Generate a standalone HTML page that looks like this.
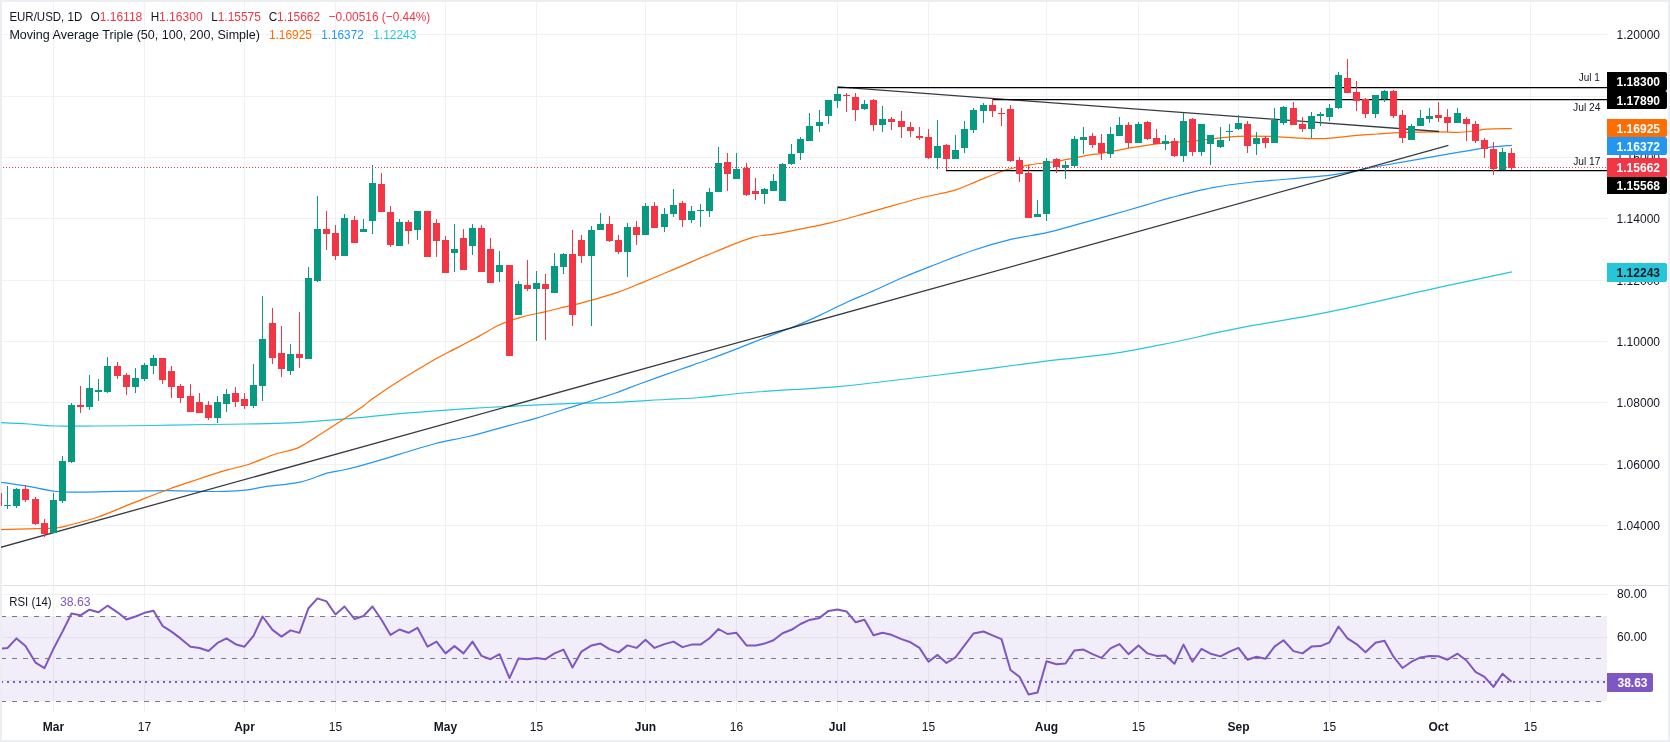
<!DOCTYPE html><html><head><meta charset="utf-8"><style>
html,body{margin:0;padding:0;width:1670px;height:742px;overflow:hidden;background:#EDEEF2;}
svg{display:block;will-change:transform;}
</style></head><body>
<svg width="1670" height="742" viewBox="0 0 1670 742" style="font-family:'Liberation Sans', sans-serif">
<rect x="2" y="2" width="1666" height="738" fill="#FFFFFF"/>
<defs><clipPath id="mainclip"><rect x="1" y="2" width="1606" height="583"/></clipPath>
<clipPath id="rsiclip"><rect x="2" y="586" width="1605" height="126"/></clipPath></defs>
<path d="M2 34.5H1607M2 96.5H1607M2 157.5H1607M2 218.5H1607M2 280.5H1607M2 341.5H1607M2 402.5H1607M2 464.5H1607M2 525.5H1607M2 594.5H1607M2 637.5H1607M2 680.5H1607M53.5 2V712M144.5 2V712M244.5 2V712M335.5 2V712M445.5 2V712M536.5 2V712M645.5 2V712M736.5 2V712M837.5 2V712M928.5 2V712M1046.5 2V712M1138.5 2V712M1238.5 2V712M1329.5 2V712M1438.5 2V712M1530.5 2V712" stroke="#F0F1F2" stroke-width="1" fill="none"/>
<rect x="2" y="585" width="1666" height="1" fill="#E0E3EB"/>
<g clip-path="url(#mainclip)">
<path d="M0.0 422.6 C4.7 422.8 19.2 423.4 28.3 424.0 C37.4 424.6 43.7 425.7 54.7 426.0 C65.7 426.3 78.3 426.1 94.3 426.0 C110.3 425.9 132.0 425.8 150.9 425.5 C169.8 425.2 191.8 424.8 207.5 424.5 C223.2 424.2 231.6 424.3 245.3 424.0 C259.1 423.7 270.4 424.0 290.0 422.9 C309.6 421.8 344.5 418.9 362.8 417.3 C381.1 415.8 387.9 414.7 400.0 413.6 C412.1 412.5 423.5 411.7 435.5 410.8 C447.5 409.9 459.8 409.0 471.9 408.3 C484.0 407.6 496.3 407.0 508.3 406.4 C520.3 405.8 531.8 405.2 543.7 404.7 C555.7 404.2 568.0 403.6 580.0 403.2 C592.0 402.8 601.5 402.9 615.6 402.3 C629.8 401.7 650.8 400.3 664.9 399.5 C679.0 398.7 685.9 398.7 700.0 397.5 C714.1 396.3 727.3 394.3 749.8 392.5 C772.2 390.7 813.0 388.6 834.7 386.8 C856.4 385.1 859.0 384.4 880.0 382.0 C901.0 379.6 932.5 375.9 960.5 372.4 C988.5 368.9 1022.5 363.9 1047.8 360.8 C1073.1 357.7 1092.1 356.7 1112.5 353.7 C1132.9 350.7 1149.2 347.2 1170.0 343.0 C1190.8 338.8 1210.8 333.6 1237.5 328.4 C1264.2 323.2 1296.9 318.4 1330.5 311.6 C1364.1 304.8 1408.9 294.0 1439.1 287.4 C1469.3 280.8 1499.8 274.5 1511.9 271.9" stroke="#26C6DA" stroke-width="1.2" fill="none" stroke-linejoin="round"/>
<path d="M0.0 482.1 C4.7 482.8 18.9 484.8 28.3 486.4 C37.7 488.0 47.2 490.6 56.6 491.5 C66.0 492.4 72.3 492.2 84.9 492.1 C97.5 492.0 117.9 491.4 132.1 491.1 C146.2 490.9 155.7 490.5 169.8 490.6 C184.0 490.7 204.4 491.6 217.0 491.5 C229.6 491.4 237.4 491.0 245.3 490.2 C253.2 489.4 255.1 488.1 264.2 486.8 C273.3 485.5 289.5 484.4 300.0 482.1 C310.5 479.8 319.8 475.1 327.0 473.1 C334.2 471.1 337.4 471.3 343.4 470.0 C349.4 468.7 353.4 467.8 362.8 465.1 C372.2 462.5 387.9 457.7 400.0 454.1 C412.1 450.5 424.1 446.4 435.5 443.5 C446.9 440.6 455.9 439.5 468.3 436.5 C480.7 433.5 498.2 428.4 509.6 425.3 C521.0 422.2 526.3 421.1 536.5 418.1 C546.7 415.1 562.2 410.0 570.6 407.4 C579.0 404.8 579.3 404.7 586.8 402.3 C594.3 399.9 606.6 396.1 615.6 393.0 C624.6 389.9 630.0 387.4 640.7 383.5 C651.4 379.6 668.6 373.5 680.0 369.5 C691.4 365.5 699.8 362.7 709.1 359.3 C718.5 355.9 726.6 352.8 736.1 349.1 C745.6 345.4 756.8 340.9 766.3 337.2 C775.8 333.5 784.2 330.7 793.2 327.0 C802.2 323.3 810.9 319.4 820.2 315.1 C829.5 310.8 840.6 305.1 848.9 301.3 C857.2 297.5 861.1 296.2 870.0 292.3 C878.9 288.4 891.5 282.3 902.3 277.7 C913.1 273.1 922.8 269.4 934.7 264.8 C946.6 260.2 961.1 254.3 973.5 250.2 C985.9 246.0 996.6 242.9 1009.0 239.9 C1021.4 236.9 1035.9 235.1 1047.8 232.4 C1059.7 229.7 1069.4 226.6 1080.2 223.7 C1091.0 220.8 1101.6 217.8 1112.5 214.7 C1123.4 211.6 1135.8 207.9 1145.4 205.1 C1155.0 202.3 1158.8 200.8 1170.0 197.9 C1181.2 195.0 1198.9 190.2 1212.7 187.6 C1226.5 184.9 1233.4 184.1 1253.0 182.0 C1272.6 179.9 1309.8 177.8 1330.5 175.2 C1351.2 172.6 1358.9 169.8 1377.0 166.5 C1395.1 163.2 1421.0 158.8 1439.1 155.7 C1457.2 152.6 1473.5 149.6 1485.6 147.9 C1497.7 146.2 1507.5 145.8 1511.9 145.4" stroke="#2196F3" stroke-width="1.2" fill="none" stroke-linejoin="round"/>
<path d="M0.0 529.6 C4.7 529.5 18.9 529.2 28.3 528.9 C37.7 528.6 49.4 528.6 56.6 527.9 C63.8 527.2 64.8 526.3 71.7 524.5 C78.6 522.7 88.0 520.5 98.1 517.0 C108.2 513.5 120.1 508.1 132.1 503.4 C144.1 498.7 158.8 492.7 169.8 488.7 C180.8 484.7 188.7 482.3 198.1 479.2 C207.5 476.1 217.9 472.7 226.4 470.2 C234.9 467.7 241.2 466.8 249.1 464.2 C257.0 461.6 265.4 457.5 273.6 454.7 C281.8 451.9 290.9 450.9 298.5 447.6 C306.1 444.3 312.0 439.4 319.1 435.0 C326.2 430.6 333.6 425.8 340.9 421.0 C348.2 416.2 357.5 410.1 362.8 406.4 C368.1 402.7 366.4 402.9 372.5 398.7 C378.6 394.5 388.6 387.6 399.1 381.0 C409.6 374.4 426.2 364.5 435.5 359.1 C444.8 353.8 447.6 352.7 454.9 348.9 C462.2 345.1 471.7 340.1 479.2 336.1 C486.7 332.1 492.9 327.8 499.8 324.7 C506.7 321.6 512.9 319.5 520.4 317.4 C527.9 315.2 536.6 313.7 544.7 311.8 C552.8 309.9 563.0 307.2 568.9 305.8 C574.8 304.4 572.0 305.6 580.0 303.4 C588.0 301.2 606.4 296.1 616.8 292.6 C627.2 289.1 631.9 286.9 642.3 282.6 C652.7 278.4 666.8 272.3 679.1 267.1 C691.4 261.9 703.6 256.4 715.9 251.5 C728.2 246.6 742.3 240.4 752.7 237.4 C763.1 234.4 765.4 235.8 778.1 233.4 C790.8 231.0 813.8 226.8 829.1 223.2 C844.4 219.6 855.1 216.2 870.0 212.1 C884.9 208.0 904.5 202.1 918.5 198.5 C932.5 194.9 944.4 193.2 954.1 190.4 C963.8 187.6 968.1 184.8 976.7 181.4 C985.3 178.0 996.6 172.8 1005.8 170.0 C1015.0 167.2 1023.1 165.9 1031.7 164.5 C1040.3 163.1 1047.8 162.9 1057.5 161.3 C1067.2 159.7 1082.8 156.1 1089.9 154.8 C1097.0 153.5 1093.5 154.8 1100.3 153.6 C1107.1 152.4 1120.6 149.5 1130.7 147.8 C1140.8 146.1 1151.1 144.4 1161.0 143.3 C1170.9 142.2 1181.8 142.2 1190.0 141.5 C1198.2 140.8 1202.4 139.9 1210.3 139.0 C1218.2 138.1 1227.4 136.7 1237.5 136.3 C1247.6 135.9 1260.6 136.1 1271.0 136.4 C1281.4 136.7 1291.1 137.8 1300.0 138.2 C1308.9 138.6 1316.4 138.9 1324.3 138.6 C1332.2 138.3 1338.5 137.1 1347.3 136.3 C1356.1 135.5 1367.5 134.7 1377.0 134.0 C1386.5 133.3 1394.2 132.7 1404.5 132.3 C1414.8 131.9 1430.4 131.8 1439.1 131.8 C1447.8 131.8 1450.8 132.4 1456.8 132.3 C1462.8 132.2 1470.2 131.5 1475.2 131.0 C1480.2 130.5 1480.5 129.5 1486.6 129.1 C1492.7 128.7 1507.6 128.7 1511.8 128.6" stroke="#FF6D00" stroke-width="1.2" fill="none" stroke-linejoin="round"/>
<path d="M0 547.5 L1448.4 145.4" stroke="#131722" stroke-width="1.3" fill="none" opacity="0.85"/>
<path d="M837.3 86.9 L1439 131.5" stroke="#131722" stroke-width="1.3" fill="none" opacity="0.85"/>
<path d="M837 87.5H1607M992 99.5H1607M946 170.5H1607" stroke="#000000" stroke-width="1.25" fill="none"/>
<path d="M7 486h1V509h-1ZM4 505h7V506h-7ZM16 488h1V508h-1ZM13 489h7V506h-7ZM53 493h1V533h-1ZM50 500h7V533h-7ZM62 456h1V503h-1ZM59 461h7V501h-7ZM71 403h1V463h-1ZM68 405h7V462h-7ZM89 375h1V410h-1ZM86 388h7V407h-7ZM98 379h1V401h-1ZM95 390h7V392h-7ZM107 357h1V393h-1ZM104 366h7V392h-7ZM135 368h1V393h-1ZM132 378h7V387h-7ZM144 363h1V381h-1ZM141 365h7V379h-7ZM153 355h1V374h-1ZM150 358h7V366h-7ZM217 396h1V423h-1ZM214 402h7V418h-7ZM226 389h1V412h-1ZM223 394h7V404h-7ZM253 364h1V408h-1ZM250 385h7V406h-7ZM262 296h1V401h-1ZM259 339h7V386h-7ZM290 344h1V375h-1ZM287 354h7V371h-7ZM308 267h1V359h-1ZM305 278h7V359h-7ZM317 196h1V282h-1ZM314 229h7V281h-7ZM344 214h1V256h-1ZM341 218h7V256h-7ZM363 219h1V232h-1ZM360 229h7V232h-7ZM372 165h1V234h-1ZM369 183h7V221h-7ZM399 219h1V246h-1ZM396 222h7V246h-7ZM417 211h1V240h-1ZM414 211h7V230h-7ZM454 224h1V272h-1ZM451 249h7V253h-7ZM472 224h1V255h-1ZM469 228h7V246h-7ZM499 251h1V282h-1ZM496 265h7V272h-7ZM518 281h1V315h-1ZM515 284h7V315h-7ZM536 271h1V341h-1ZM533 283h7V289h-7ZM554 253h1V293h-1ZM551 266h7V293h-7ZM563 253h1V274h-1ZM560 254h7V267h-7ZM591 226h1V326h-1ZM588 230h7V256h-7ZM600 213h1V230h-1ZM597 224h7V230h-7ZM627 223h1V277h-1ZM624 227h7V252h-7ZM645 203h1V235h-1ZM642 206h7V235h-7ZM664 208h1V232h-1ZM661 214h7V227h-7ZM673 189h1V217h-1ZM670 205h7V214h-7ZM691 206h1V223h-1ZM688 211h7V220h-7ZM700 204h1V227h-1ZM697 210h7V211h-7ZM709 188h1V217h-1ZM706 192h7V211h-7ZM718 147h1V192h-1ZM715 163h7V192h-7ZM736 153h1V179h-1ZM733 169h7V179h-7ZM764 188h1V204h-1ZM761 189h7V194h-7ZM773 174h1V191h-1ZM770 181h7V191h-7ZM782 163h1V201h-1ZM779 164h7V201h-7ZM791 144h1V165h-1ZM788 154h7V164h-7ZM800 137h1V160h-1ZM797 139h7V153h-7ZM809 113h1V141h-1ZM806 126h7V141h-7ZM819 110h1V132h-1ZM816 122h7V126h-7ZM828 100h1V124h-1ZM825 100h7V116h-7ZM837 87h1V108h-1ZM834 94h7V101h-7ZM864 100h1V110h-1ZM861 104h7V109h-7ZM882 106h1V132h-1ZM879 119h7V125h-7ZM937 120h1V169h-1ZM934 146h7V158h-7ZM955 135h1V159h-1ZM952 150h7V159h-7ZM964 121h1V153h-1ZM961 129h7V148h-7ZM973 108h1V133h-1ZM970 110h7V130h-7ZM983 103h1V123h-1ZM980 105h7V111h-7ZM1037 200h1V217h-1ZM1034 214h7V217h-7ZM1046 158h1V221h-1ZM1043 161h7V214h-7ZM1065 161h1V179h-1ZM1062 165h7V168h-7ZM1074 136h1V168h-1ZM1071 139h7V166h-7ZM1083 127h1V154h-1ZM1080 137h7V140h-7ZM1110 127h1V158h-1ZM1107 134h7V154h-7ZM1119 117h1V136h-1ZM1116 125h7V136h-7ZM1138 122h1V143h-1ZM1135 124h7V143h-7ZM1165 135h1V150h-1ZM1162 141h7V144h-7ZM1183 113h1V162h-1ZM1180 121h7V156h-7ZM1201 124h1V156h-1ZM1198 124h7V152h-7ZM1210 135h1V165h-1ZM1207 135h7V144h-7ZM1220 127h1V148h-1ZM1217 140h7V147h-7ZM1229 124h1V141h-1ZM1226 131h7V132h-7ZM1238 115h1V130h-1ZM1235 123h7V129h-7ZM1256 132h1V155h-1ZM1253 138h7V144h-7ZM1274 108h1V143h-1ZM1271 120h7V143h-7ZM1283 106h1V125h-1ZM1280 107h7V123h-7ZM1311 112h1V138h-1ZM1308 116h7V129h-7ZM1320 112h1V126h-1ZM1317 114h7V116h-7ZM1329 104h1V121h-1ZM1326 108h7V117h-7ZM1338 72h1V109h-1ZM1335 75h7V108h-7ZM1375 95h1V118h-1ZM1372 95h7V114h-7ZM1384 90h1V102h-1ZM1381 91h7V99h-7ZM1411 124h1V140h-1ZM1408 126h7V140h-7ZM1420 110h1V126h-1ZM1417 118h7V126h-7ZM1429 108h1V123h-1ZM1426 116h7V119h-7ZM1457 108h1V123h-1ZM1454 113h7V123h-7ZM1502 148h1V170h-1ZM1499 152h7V170h-7Z" fill="#089981" shape-rendering="crispEdges"/>
<path d="M-2 490h1V508h-1ZM-5 493h7V506h-7ZM25 485h1V502h-1ZM22 489h7V500h-7ZM35 497h1V525h-1ZM32 499h7V524h-7ZM44 519h1V537h-1ZM41 523h7V534h-7ZM80 386h1V413h-1ZM77 405h7V407h-7ZM117 362h1V379h-1ZM114 366h7V376h-7ZM126 373h1V395h-1ZM123 375h7V387h-7ZM162 358h1V384h-1ZM159 358h7V380h-7ZM171 366h1V398h-1ZM168 371h7V387h-7ZM180 384h1V403h-1ZM177 386h7V398h-7ZM190 384h1V412h-1ZM187 396h7V412h-7ZM199 393h1V413h-1ZM196 402h7V413h-7ZM208 401h1V420h-1ZM205 405h7V418h-7ZM235 387h1V407h-1ZM232 393h7V402h-7ZM244 393h1V409h-1ZM241 399h7V406h-7ZM272 308h1V364h-1ZM269 323h7V358h-7ZM281 326h1V377h-1ZM278 353h7V369h-7ZM299 312h1V368h-1ZM296 354h7V358h-7ZM326 211h1V250h-1ZM323 229h7V234h-7ZM335 225h1V260h-1ZM332 233h7V256h-7ZM354 216h1V243h-1ZM351 220h7V243h-7ZM381 173h1V212h-1ZM378 184h7V212h-7ZM390 206h1V247h-1ZM387 212h7V245h-7ZM408 220h1V244h-1ZM405 222h7V231h-7ZM427 211h1V257h-1ZM424 211h7V257h-7ZM436 219h1V257h-1ZM433 223h7V241h-7ZM445 236h1V273h-1ZM442 240h7V273h-7ZM463 229h1V270h-1ZM460 238h7V270h-7ZM481 225h1V272h-1ZM478 228h7V272h-7ZM490 238h1V283h-1ZM487 249h7V283h-7ZM509 265h1V356h-1ZM506 265h7V356h-7ZM527 260h1V291h-1ZM524 285h7V289h-7ZM545 274h1V340h-1ZM542 284h7V289h-7ZM572 230h1V326h-1ZM569 254h7V315h-7ZM581 235h1V263h-1ZM578 240h7V256h-7ZM609 216h1V242h-1ZM606 224h7V241h-7ZM618 235h1V254h-1ZM615 240h7V252h-7ZM636 221h1V245h-1ZM633 227h7V235h-7ZM654 202h1V228h-1ZM651 206h7V228h-7ZM682 201h1V227h-1ZM679 203h7V220h-7ZM727 153h1V191h-1ZM724 162h7V174h-7ZM746 163h1V196h-1ZM743 168h7V195h-7ZM755 178h1V200h-1ZM752 191h7V194h-7ZM846 93h1V112h-1ZM843 95h7V96h-7ZM855 93h1V121h-1ZM852 97h7V110h-7ZM873 99h1V131h-1ZM870 100h7V125h-7ZM891 117h1V130h-1ZM888 119h7V122h-7ZM901 111h1V138h-1ZM898 121h7V127h-7ZM910 122h1V137h-1ZM907 127h7V131h-7ZM919 127h1V140h-1ZM916 136h7V138h-7ZM928 129h1V159h-1ZM925 137h7V158h-7ZM946 144h1V170h-1ZM943 145h7V159h-7ZM992 99h1V117h-1ZM989 105h7V111h-7ZM1001 108h1V126h-1ZM998 113h7V114h-7ZM1010 105h1V162h-1ZM1007 109h7V161h-7ZM1019 157h1V182h-1ZM1016 160h7V174h-7ZM1028 165h1V218h-1ZM1025 173h7V218h-7ZM1056 158h1V173h-1ZM1053 159h7V167h-7ZM1092 133h1V148h-1ZM1089 136h7V145h-7ZM1101 134h1V160h-1ZM1098 143h7V153h-7ZM1128 122h1V148h-1ZM1125 125h7V143h-7ZM1147 121h1V140h-1ZM1144 122h7V139h-7ZM1156 129h1V144h-1ZM1153 138h7V144h-7ZM1174 138h1V157h-1ZM1171 141h7V156h-7ZM1192 118h1V156h-1ZM1189 119h7V152h-7ZM1247 121h1V153h-1ZM1244 124h7V146h-7ZM1265 136h1V148h-1ZM1262 138h7V143h-7ZM1293 102h1V125h-1ZM1290 108h7V125h-7ZM1302 117h1V132h-1ZM1299 124h7V129h-7ZM1347 59h1V93h-1ZM1344 78h7V93h-7ZM1356 81h1V111h-1ZM1353 92h7V101h-7ZM1365 98h1V118h-1ZM1362 99h7V114h-7ZM1393 90h1V118h-1ZM1390 91h7V116h-7ZM1402 110h1V143h-1ZM1399 115h7V138h-7ZM1438 102h1V122h-1ZM1435 115h7V118h-7ZM1447 109h1V132h-1ZM1444 117h7V123h-7ZM1466 117h1V141h-1ZM1463 119h7V124h-7ZM1475 121h1V143h-1ZM1472 124h7V141h-7ZM1484 138h1V158h-1ZM1481 140h7V149h-7ZM1493 142h1V175h-1ZM1490 149h7V169h-7ZM1511 148h1V170h-1ZM1508 153h7V168h-7Z" fill="#F23645" shape-rendering="crispEdges"/>
<path d="M2 167.5H1607" stroke="#F23645" stroke-width="1" stroke-dasharray="1 2" stroke-dashoffset="2" fill="none"/>
</g>
<g clip-path="url(#rsiclip)">
<rect x="2" y="616" width="1605" height="85" fill="rgba(126,87,194,0.1)"/>
<path d="M1 616.5H1607" stroke="#787B86" stroke-width="1" stroke-dasharray="5 6" fill="none"/>
<path d="M1 658.5H1607" stroke="#787B86" stroke-width="1" stroke-dasharray="5 6" fill="none"/>
<path d="M1 701.5H1607" stroke="#787B86" stroke-width="1" stroke-dasharray="5 6" fill="none"/>
<path d="M1 682H1607" stroke="#7E57C2" stroke-width="2" stroke-dasharray="2 4" fill="none"/>
<path d="M-1.5 649.0 L7.5 648.0 L16.5 638.4 L25.5 646.0 L35.5 662.6 L44.5 668.1 L53.5 648.7 L62.5 631.6 L71.5 613.5 L80.5 615.3 L89.5 609.7 L98.5 612.3 L107.5 605.7 L117.5 612.3 L126.5 619.5 L135.5 616.5 L144.5 612.8 L153.5 610.7 L162.5 625.8 L171.5 631.6 L180.5 638.4 L190.5 646.7 L199.5 648.0 L208.5 651.0 L217.5 642.9 L226.5 638.4 L235.5 644.2 L244.5 646.7 L253.5 635.9 L262.5 616.5 L272.5 629.9 L281.5 636.6 L290.5 630.4 L299.5 632.9 L308.5 608.2 L317.5 598.4 L326.5 601.4 L335.5 614.5 L344.5 606.5 L354.5 619.0 L363.5 616.0 L372.5 606.5 L381.5 619.8 L390.5 634.9 L399.5 629.5 L408.5 632.8 L417.5 627.8 L427.5 646.6 L436.5 641.6 L445.5 653.4 L454.5 646.1 L463.5 653.4 L472.5 641.6 L481.5 655.9 L490.5 659.2 L499.5 654.2 L509.5 678.1 L518.5 658.4 L527.5 659.2 L536.5 657.9 L545.5 659.2 L554.5 653.4 L563.5 649.6 L572.5 667.5 L581.5 651.6 L591.5 645.4 L600.5 643.6 L609.5 649.1 L618.5 652.4 L627.5 645.4 L636.5 647.9 L645.5 639.8 L654.5 647.9 L664.5 644.1 L673.5 641.6 L682.5 647.1 L691.5 644.6 L700.5 644.6 L709.5 638.3 L718.5 629.0 L727.5 634.0 L736.5 632.8 L746.5 645.4 L755.5 645.4 L764.5 643.6 L773.5 640.3 L782.5 633.3 L791.5 629.8 L800.5 624.0 L809.5 619.9 L819.5 617.9 L828.5 610.9 L837.5 609.4 L846.5 611.4 L855.5 622.2 L864.5 619.7 L873.5 635.3 L882.5 632.8 L891.5 634.8 L901.5 639.1 L910.5 642.3 L919.5 647.9 L928.5 661.7 L937.5 654.9 L946.5 663.0 L955.5 657.4 L964.5 645.4 L973.5 633.5 L983.5 631.5 L992.5 635.3 L1001.5 639.1 L1010.5 670.0 L1019.5 676.8 L1028.5 694.4 L1037.5 692.6 L1046.5 661.2 L1056.5 664.2 L1065.5 663.5 L1074.5 650.4 L1083.5 649.6 L1092.5 654.2 L1101.5 657.9 L1110.5 648.4 L1119.5 644.1 L1128.5 654.2 L1138.5 645.4 L1147.5 653.4 L1156.5 655.9 L1165.5 655.4 L1174.5 663.7 L1183.5 644.6 L1192.5 661.7 L1201.5 648.8 L1210.5 653.7 L1220.5 656.4 L1229.5 651.6 L1238.5 647.9 L1247.5 659.7 L1256.5 656.7 L1265.5 658.7 L1274.5 646.6 L1283.5 640.3 L1293.5 651.1 L1302.5 653.4 L1311.5 646.6 L1320.5 646.1 L1329.5 642.3 L1338.5 626.5 L1347.5 638.3 L1356.5 644.1 L1365.5 652.2 L1375.5 642.8 L1384.5 640.8 L1393.5 656.7 L1402.5 668.0 L1411.5 661.7 L1420.5 657.4 L1429.5 655.9 L1438.5 656.2 L1447.5 659.7 L1457.5 653.7 L1466.5 660.5 L1475.5 671.8 L1484.5 676.8 L1493.5 686.9 L1502.5 673.8 L1511.5 681.8" stroke="#7E57C2" stroke-width="2" fill="none" stroke-linejoin="round"/>
</g>
<text x="1660.0" y="39.0" font-size="12" fill="#131722" text-anchor="end" font-weight="normal">1.20000</text>
<text x="1660.0" y="101.0" font-size="12" fill="#131722" text-anchor="end" font-weight="normal">1.18000</text>
<text x="1660.0" y="162.0" font-size="12" fill="#131722" text-anchor="end" font-weight="normal">1.16000</text>
<text x="1660.0" y="223.0" font-size="12" fill="#131722" text-anchor="end" font-weight="normal">1.14000</text>
<text x="1660.0" y="285.0" font-size="12" fill="#131722" text-anchor="end" font-weight="normal">1.12000</text>
<text x="1660.0" y="346.0" font-size="12" fill="#131722" text-anchor="end" font-weight="normal">1.10000</text>
<text x="1660.0" y="407.0" font-size="12" fill="#131722" text-anchor="end" font-weight="normal">1.08000</text>
<text x="1660.0" y="469.0" font-size="12" fill="#131722" text-anchor="end" font-weight="normal">1.06000</text>
<text x="1660.0" y="530.0" font-size="12" fill="#131722" text-anchor="end" font-weight="normal">1.04000</text>
<text x="1647.0" y="598.3" font-size="12" fill="#131722" text-anchor="end" font-weight="normal">80.00</text>
<text x="1647.0" y="641.3" font-size="12" fill="#131722" text-anchor="end" font-weight="normal">60.00</text>
<path d="M1607 72.0H1665.0a2 2 0 0 1 2 2V89.0a2 2 0 0 1 -2 2H1607Z" fill="#000000"/><text x="1660.0" y="86.0" font-size="12" fill="#FFFFFF" text-anchor="end" font-weight="bold">1.18300</text>
<path d="M1607 91.0H1665.0a2 2 0 0 1 2 2V107.0a2 2 0 0 1 -2 2H1607Z" fill="#000000"/><text x="1660.0" y="104.5" font-size="12" fill="#FFFFFF" text-anchor="end" font-weight="bold">1.17890</text>
<path d="M1607 119.0H1665.0a2 2 0 0 1 2 2V135.0a2 2 0 0 1 -2 2H1607Z" fill="#FF6D00"/><text x="1660.0" y="132.5" font-size="12" fill="#FFFFFF" text-anchor="end" font-weight="bold">1.16925</text>
<path d="M1607 137.0H1665.0a2 2 0 0 1 2 2V153.0a2 2 0 0 1 -2 2H1607Z" fill="#2196F3"/><text x="1660.0" y="150.5" font-size="12" fill="#FFFFFF" text-anchor="end" font-weight="bold">1.16372</text>
<path d="M1607 158.0H1665.0a2 2 0 0 1 2 2V175.0a2 2 0 0 1 -2 2H1607Z" fill="#F23645"/><text x="1660.0" y="172.0" font-size="12" fill="#FFFFFF" text-anchor="end" font-weight="bold">1.15662</text>
<path d="M1607 177.0H1665.0a2 2 0 0 1 2 2V192.0a2 2 0 0 1 -2 2H1607Z" fill="#000000"/><text x="1660.0" y="190.0" font-size="12" fill="#FFFFFF" text-anchor="end" font-weight="bold">1.15568</text>
<path d="M1607 263.0H1665.0a2 2 0 0 1 2 2V280.0a2 2 0 0 1 -2 2H1607Z" fill="#26C6DA"/><text x="1660.0" y="277.0" font-size="12" fill="#131722" text-anchor="end" font-weight="bold">1.12243</text>
<path d="M1607 673.0H1651.0a2 2 0 0 1 2 2V690.0a2 2 0 0 1 -2 2H1607Z" fill="#7E57C2"/><text x="1647.5" y="687.0" font-size="12" fill="#FFFFFF" text-anchor="end" font-weight="bold">38.63</text>
<text x="1578.8" y="81" font-size="10" fill="#131722" textLength="21" lengthAdjust="spacingAndGlyphs">Jul 1</text>
<text x="1573" y="110.7" font-size="10" fill="#131722" textLength="27.5" lengthAdjust="spacingAndGlyphs">Jul 24</text>
<text x="1573.2" y="165.3" font-size="10" fill="#131722" textLength="27.2" lengthAdjust="spacingAndGlyphs">Jul 17</text>
<text x="53.5" y="731.0" font-size="12" fill="#131722" text-anchor="middle" font-weight="bold">Mar</text>
<text x="144.5" y="731.0" font-size="12" fill="#131722" text-anchor="middle" font-weight="normal">17</text>
<text x="244.5" y="731.0" font-size="12" fill="#131722" text-anchor="middle" font-weight="bold">Apr</text>
<text x="335.5" y="731.0" font-size="12" fill="#131722" text-anchor="middle" font-weight="normal">15</text>
<text x="445.5" y="731.0" font-size="12" fill="#131722" text-anchor="middle" font-weight="bold">May</text>
<text x="536.5" y="731.0" font-size="12" fill="#131722" text-anchor="middle" font-weight="normal">15</text>
<text x="645.5" y="731.0" font-size="12" fill="#131722" text-anchor="middle" font-weight="bold">Jun</text>
<text x="736.5" y="731.0" font-size="12" fill="#131722" text-anchor="middle" font-weight="normal">16</text>
<text x="837.5" y="731.0" font-size="12" fill="#131722" text-anchor="middle" font-weight="bold">Jul</text>
<text x="928.5" y="731.0" font-size="12" fill="#131722" text-anchor="middle" font-weight="normal">15</text>
<text x="1046.5" y="731.0" font-size="12" fill="#131722" text-anchor="middle" font-weight="bold">Aug</text>
<text x="1138.5" y="731.0" font-size="12" fill="#131722" text-anchor="middle" font-weight="normal">15</text>
<text x="1238.5" y="731.0" font-size="12" fill="#131722" text-anchor="middle" font-weight="bold">Sep</text>
<text x="1329.5" y="731.0" font-size="12" fill="#131722" text-anchor="middle" font-weight="normal">15</text>
<text x="1438.5" y="731.0" font-size="12" fill="#131722" text-anchor="middle" font-weight="bold">Oct</text>
<text x="1530.5" y="731.0" font-size="12" fill="#131722" text-anchor="middle" font-weight="normal">15</text>
<text x="9.4" y="20.8" font-size="13" fill="#131722" textLength="72.8" lengthAdjust="spacingAndGlyphs">EUR/USD, 1D</text>
<text x="90.6" y="20.8" font-size="13" fill="#131722" textLength="9.4" lengthAdjust="spacingAndGlyphs">O</text>
<text x="99.7" y="20.8" font-size="13" fill="#F23645" textLength="42.6" lengthAdjust="spacingAndGlyphs">1.16118</text>
<text x="150.7" y="20.8" font-size="13" fill="#131722" textLength="8.5" lengthAdjust="spacingAndGlyphs">H</text>
<text x="159.0" y="20.8" font-size="13" fill="#F23645" textLength="43.6" lengthAdjust="spacingAndGlyphs">1.16300</text>
<text x="211.3" y="20.8" font-size="13" fill="#131722" textLength="6.5" lengthAdjust="spacingAndGlyphs">L</text>
<text x="217.7" y="20.8" font-size="13" fill="#F23645" textLength="43.1" lengthAdjust="spacingAndGlyphs">1.15575</text>
<text x="268.7" y="20.8" font-size="13" fill="#131722" textLength="8.5" lengthAdjust="spacingAndGlyphs">C</text>
<text x="277.0" y="20.8" font-size="13" fill="#F23645" textLength="43.1" lengthAdjust="spacingAndGlyphs">1.15662</text>
<text x="328.7" y="20.8" font-size="13" fill="#F23645" textLength="101.6" lengthAdjust="spacingAndGlyphs">&#8722;0.00516 (&#8722;0.44%)</text>
<text x="9.4" y="38.6" font-size="13" fill="#131722" textLength="250.6" lengthAdjust="spacingAndGlyphs">Moving Average Triple (50, 100, 200, Simple)</text>
<text x="268.9" y="38.6" font-size="13" fill="#FF6D00" textLength="43.1" lengthAdjust="spacingAndGlyphs">1.16925</text>
<text x="321.2" y="38.6" font-size="13" fill="#2196F3" textLength="42.6" lengthAdjust="spacingAndGlyphs">1.16372</text>
<text x="373.2" y="38.6" font-size="13" fill="#26C6DA" textLength="43.1" lengthAdjust="spacingAndGlyphs">1.12243</text>
<text x="9.3" y="606.0" font-size="13" fill="#131722" textLength="42.3" lengthAdjust="spacingAndGlyphs">RSI (14)</text>
<text x="59.9" y="606.0" font-size="13" fill="#7E57C2" textLength="30.6" lengthAdjust="spacingAndGlyphs">38.63</text>
</svg></body></html>
